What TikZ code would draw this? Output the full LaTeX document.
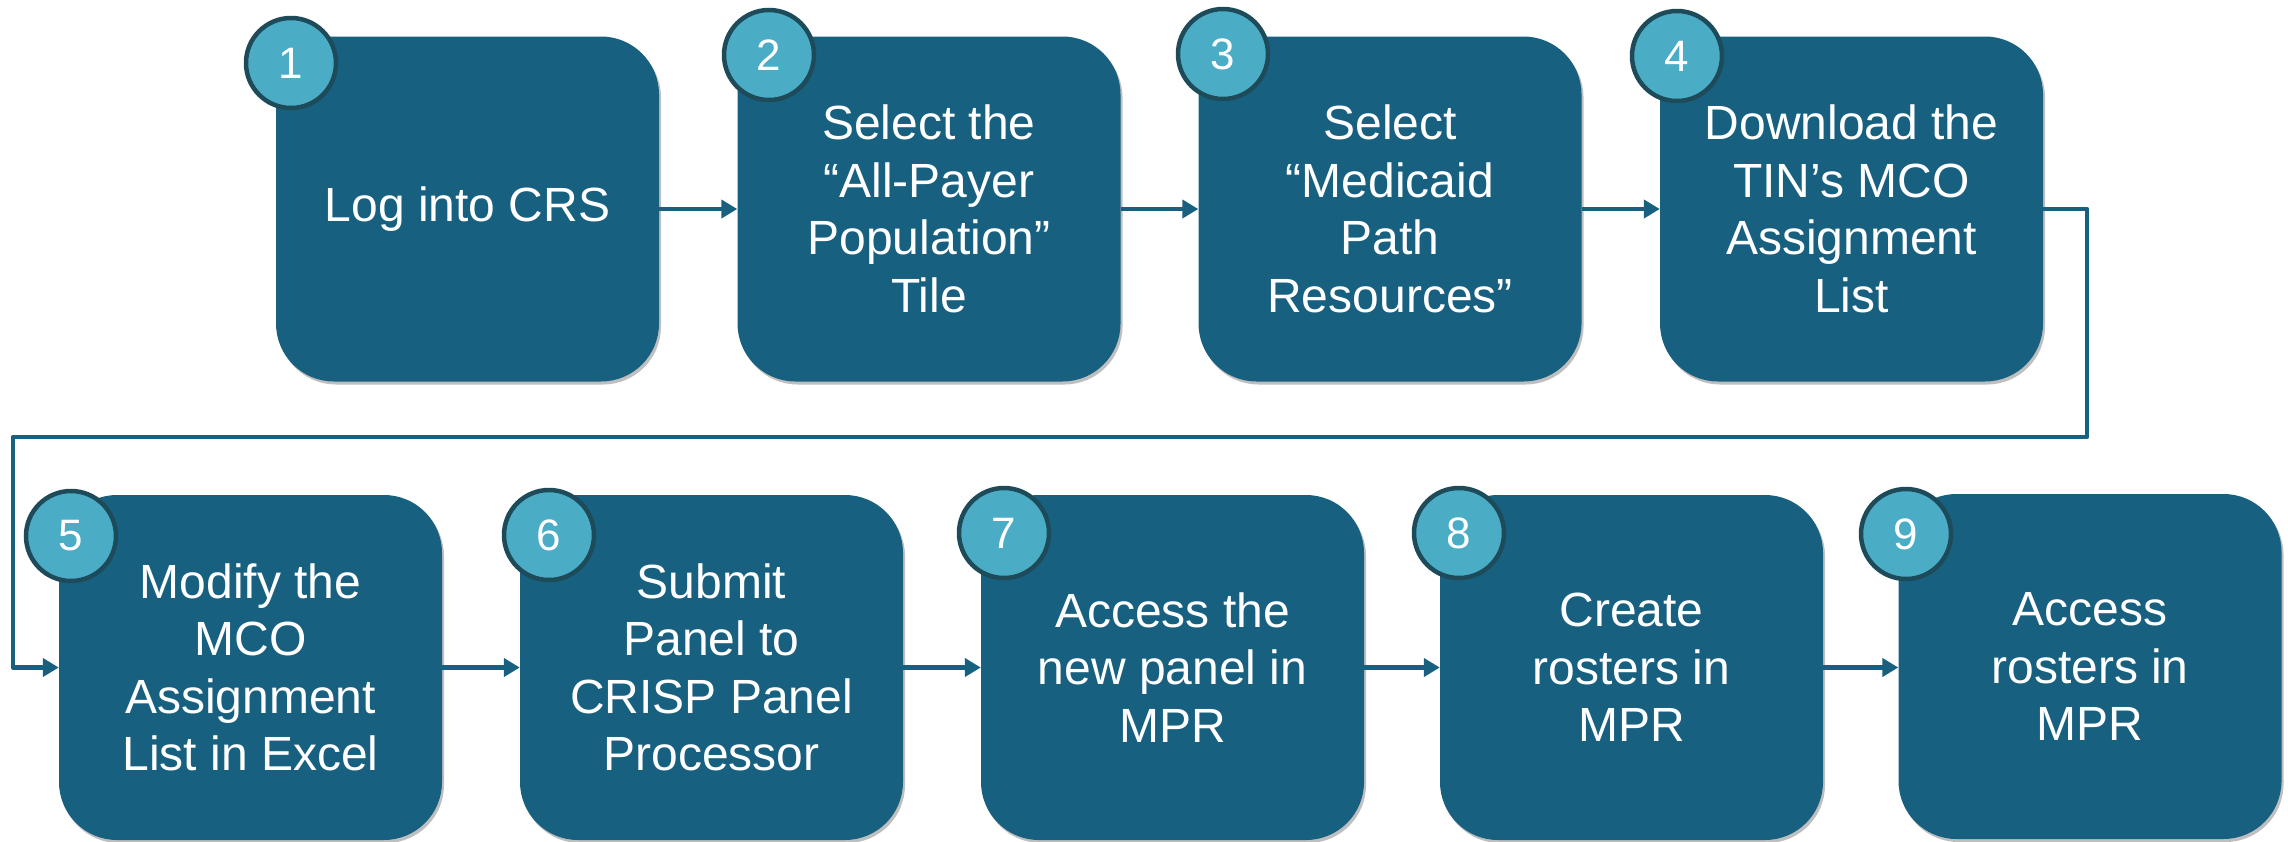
\documentclass[tikz,border=0pt]{standalone}
\usepackage{fontspec}
\setmainfont{Liberation Sans}
\usetikzlibrary{arrows.meta,shadows}
\definecolor{boxblue}{RGB}{24,96,128}
\definecolor{circfill}{RGB}{75,172,198}
\definecolor{circline}{RGB}{30,75,90}
\begin{document}
\begin{tikzpicture}[x=1pt,y=-1pt,
  stepbox/.style={draw=none,fill=boxblue,rounded corners=58pt,minimum width=383pt,minimum height=345pt,
    inner sep=0pt,text=white,align=center,font=\fontsize{48}{57.5}\selectfont,
    drop shadow={shadow xshift=2pt,shadow yshift=-3pt,opacity=0.25,fill=black}},
  numcirc/.style={circle,fill=circfill,draw=circline,line width=4.5pt,minimum size=90pt,inner sep=0pt,
    text=white,font=\fontsize{44}{44}\selectfont},
  conn/.style={draw=boxblue,line width=4.5pt,line join=round,-{Triangle[length=16pt,width=18pt]}}]
\useasboundingbox (0,0) rectangle (2288,841);
% top row
\node[stepbox] (b1) at (467.5,209) {Log into CRS};
\node[stepbox] (b2) at (929,209) {Select the\\“All-Payer\\Population”\\Tile};
\node[stepbox] (b3) at (1390,209) {Select\\“Medicaid\\Path\\Resources”};
\node[stepbox] (b4) at (1851.5,209) {Download the\\TIN’s MCO\\Assignment\\List};
% bottom row
\node[stepbox] (b5) at (250.5,667.5) {Modify the\\MCO\\Assignment\\List in Excel};
\node[stepbox] (b6) at (711.5,667.5) {Submit\\Panel to\\CRISP Panel\\Processor};
\node[stepbox] (b7) at (1172.5,667.5) {Access the\\new panel in\\MPR};
\node[stepbox] (b8) at (1631.5,667.5) {Create\\rosters in\\MPR};
\node[stepbox] (b9) at (2090,666.5) {Access\\rosters in\\MPR};
% number circles
\node[numcirc] (n1) at (291,63) {1};
\node[numcirc] (n2) at (769,55) {2};
\node[numcirc] (n3) at (1223,54) {3};
\node[numcirc] (n4) at (1677,56) {4};
\node[numcirc] (n5) at (71,536) {5};
\node[numcirc] (n6) at (549,535) {6};
\node[numcirc] (n7) at (1004,533) {7};
\node[numcirc] (n8) at (1459,533) {8};
\node[numcirc] (n9) at (1906,534) {9};
% connectors
\draw[conn] (b1) -- (b2);
\draw[conn] (b2) -- (b3);
\draw[conn] (b3) -- (b4);
\coordinate (r1) at (2087,437);
\coordinate (l1) at (13,437);
\draw[conn] (b4.east) -| (r1) -- (l1) |- (b5.west);
\draw[conn] (b5) -- (b6);
\draw[conn] (b6) -- (b7);
\draw[conn] (b7) -- (b8);
\draw[conn] (b8.east) -- (b9.west |- b8.east);
\end{tikzpicture}
\end{document}
